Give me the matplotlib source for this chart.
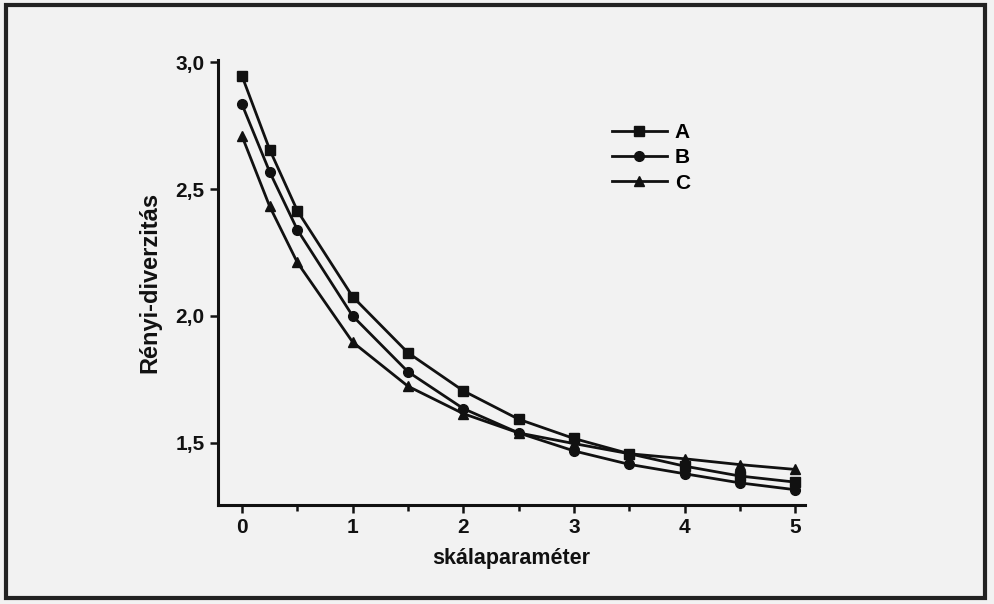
import matplotlib
matplotlib.use("Agg")
import matplotlib.pyplot as plt
from matplotlib.patches import Rectangle
from matplotlib.ticker import FuncFormatter, MultipleLocator

x = [0, 0.25, 0.5, 1, 1.5, 2, 2.5, 3, 3.5, 4, 4.5, 5]
series_A = [2.946, 2.656, 2.415, 2.076, 1.855, 1.705, 1.593, 1.517, 1.457, 1.408, 1.369, 1.345]
series_B = [2.834, 2.568, 2.340, 2.000, 1.780, 1.635, 1.539, 1.468, 1.415, 1.378, 1.342, 1.315]
series_C = [2.709, 2.432, 2.211, 1.897, 1.723, 1.615, 1.539, 1.497, 1.457, 1.437, 1.414, 1.395]
labels = ["A", "B", "C"]
markers = ["s", "o", "^"]
yticks = [1.5, 2.0, 2.5, 3.0]
xticks = [0, 1, 2, 3, 4, 5]

plt.rcParams['font.family'] = ['Liberation Sans', 'DejaVu Sans']

fig = plt.figure(figsize=(9.94, 6.04), dpi=100)
fig.patch.set_facecolor('#f2f2f2')
fig.patches.append(Rectangle((0.006, 0.01), 0.985, 0.982, transform=fig.transFigure,
                             fill=False, edgecolor='#222222', linewidth=3))

ax = fig.add_axes([0.219, 0.164, 0.591, 0.737])
ax.set_facecolor('none')
for s, lab, m in zip([series_A, series_B, series_C], labels, markers):
    ax.plot(x, s, color='#111111', linewidth=2.0, marker=m, markersize=7, label=lab)

ax.set_xlim(-0.22, 5.09)
ax.set_ylim(1.255, 3.01)
ax.set_xticks(xticks)
ax.xaxis.set_minor_locator(MultipleLocator(0.5))
ax.set_yticks(yticks)
ax.yaxis.set_major_formatter(FuncFormatter(lambda v, p: f"{v:.1f}".replace('.', ',')))
ax.xaxis.set_major_formatter(FuncFormatter(lambda v, p: f"{v:.0f}"))
for sp in ['top', 'right']:
    ax.spines[sp].set_visible(False)
for sp in ['left', 'bottom']:
    ax.spines[sp].set_linewidth(2.2)
    ax.spines[sp].set_color('#111111')
ax.tick_params(axis='both', which='major', direction='out', length=6, width=1.8,
               labelsize=15, colors='#111111')
ax.tick_params(axis='x', which='minor', direction='out', length=4, width=1.8, colors='#111111')
for t in ax.get_xticklabels() + ax.get_yticklabels():
    t.set_fontweight('bold')
ax.set_xlabel("skálaparaméter", fontsize=15.5, fontweight='bold', labelpad=8, color='#111111')
ax.set_ylabel("Rényi-diverzitás", fontsize=17, fontweight='bold', labelpad=10, color='#111111')
leg = ax.legend(frameon=False, loc='upper left', bbox_to_anchor=(0.64, 0.9),
                prop={'size': 15, 'weight': 'bold'}, handlelength=2.6,
                labelspacing=0.3, handletextpad=0.4)

fig.savefig("out.png", dpi=100, facecolor=fig.get_facecolor())
